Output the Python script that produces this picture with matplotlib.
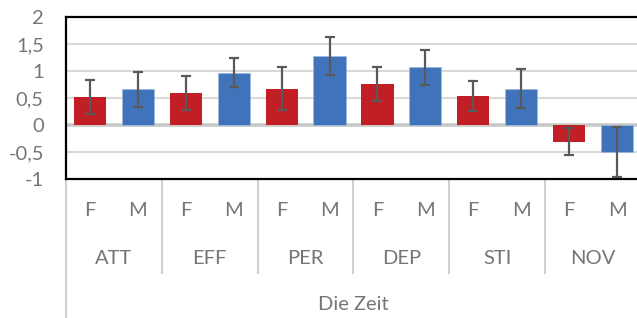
import matplotlib.pyplot as plt
import matplotlib.transforms as mtransforms
import numpy as np

plt.rcParams['font.family'] = ['Lato', 'DejaVu Sans']

gruppen = ["ATT", "EFF", "PER", "DEP", "STI", "NOV"]
geschlecht = ["F", "M"]
werte_f = [0.52, 0.59, 0.67, 0.76, 0.54, -0.31]
werte_m = [0.66, 0.97, 1.28, 1.07, 0.67, -0.50]
fehler_f = [0.31, 0.31, 0.40, 0.32, 0.28, 0.25]
fehler_m = [0.33, 0.27, 0.35, 0.32, 0.36, 0.47]
y_ticks = [2, 1.5, 1, 0.5, 0, -0.5, -1]
achsen_titel = "Die Zeit"

rot = "#C21E25"
blau = "#4173BA"
grau_text = "#767676"

W, H = 637, 318
fig = plt.figure(figsize=(W / 100, H / 100), dpi=100)
ax = fig.add_axes([66 / W, 1 - 179 / H, (641 - 66) / W, (179 - 17) / H])

n = len(gruppen)
x_f = np.arange(n) * 2
x_m = x_f + 1
fehler_stil = dict(ecolor="#595959", elinewidth=1.6, capsize=3.5, capthick=1.6)
ax.bar(x_f, werte_f, width=0.67, color=rot, zorder=3)
ax.bar(x_m, werte_m, width=0.67, color=blau, edgecolor="#9DB8E0", linewidth=0.6, zorder=3)
ax.errorbar(x_f, werte_f, yerr=fehler_f, fmt="none", zorder=4, **fehler_stil)
ax.errorbar(x_m, werte_m, yerr=fehler_m, fmt="none", zorder=4, **fehler_stil)

ax.set_xlim(-0.5, 2 * n - 0.5)
ax.set_ylim(-1, 2)
ax.set_yticks(y_ticks)
ax.set_yticklabels([str(t).replace(".", ",") for t in y_ticks], fontsize=14.5, color=grau_text)
ax.tick_params(axis="y", length=0, pad=16)
ax.set_xticks([])
for t in [1.5, 1, 0.5, -0.5]:
    ax.axhline(t, color="#D9D9D9", lw=1.5, zorder=1)
ax.axhline(0, color="#C8C8C8", lw=2.6, zorder=2)

for s in ["top", "bottom", "left"]:
    ax.spines[s].set_color("black")
    ax.spines[s].set_linewidth(1.6)
ax.spines["right"].set_visible(False)

# kategorien unter der achse
tr = mtransforms.blended_transform_factory(ax.transData, fig.transFigure)
def fy(px):
    return 1 - px / H

for i in range(n):
    ax.text(x_f[i], fy(211), geschlecht[0], transform=tr, ha="center", va="center",
            fontsize=14.5, color=grau_text)
    ax.text(x_m[i], fy(211), geschlecht[1], transform=tr, ha="center", va="center",
            fontsize=14.5, color=grau_text)
    ax.text(x_f[i] + 0.5, fy(258), gruppen[i], transform=tr, ha="center", va="center",
            fontsize=14.5, color=grau_text)
    if i > 0:
        ax.plot([x_f[i] - 0.5] * 2, [fy(180), fy(273)], transform=tr, color="#D0D0D0",
                lw=1.5, clip_on=False)
ax.plot([-0.5, -0.5], [fy(180), fy(318)], transform=tr, color="#D0D0D0", lw=1.5, clip_on=False)
ax.text(n - 0.5, fy(304), achsen_titel, transform=tr, ha="center", va="center",
        fontsize=14.5, color=grau_text)

fig.savefig("out.png", dpi=100)
